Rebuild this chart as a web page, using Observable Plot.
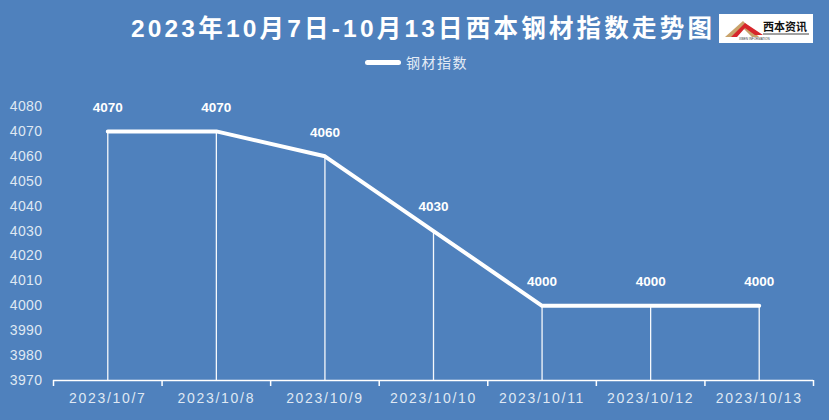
<!DOCTYPE html>
<html>
<head>
<meta charset="utf-8">
<script src="https://cdn.jsdelivr.net/npm/d3@7"></script>
<script src="https://cdn.jsdelivr.net/npm/@observablehq/plot@0.6"></script>
<style>
  html, body { margin: 0; padding: 0; }
  body { width: 829px; height: 420px; background: #4F81BD; overflow: hidden; position: relative; font-family: "Noto Sans CJK SC", "Liberation Sans", sans-serif; }
  #title { position: absolute; left: 0; top: 0; width: 846px; height: 50px; line-height: 57px; text-align: center; color: #fff; font-weight: bold; font-size: 24.5px; letter-spacing: 3.2px; font-family: "Liberation Sans", "Noto Sans CJK SC", sans-serif; }
  #legend { position: absolute; left: 0; top: 50px; width: 829px; height: 30px; }
  #legend .sw { position: absolute; left: 365px; top: 10px; width: 36px; height: 5px; background: #fff; border-radius: 3px; }
  #legend .lb { position: absolute; left: 406px; top: 0px; line-height: 24px; color: #e4ecf6; font-size: 14px; letter-spacing: 1.5px; }
  #logo { position: absolute; left: 719px; top: 14px; width: 94px; height: 29px; background: #fff; }
  #chart { position: absolute; left: 0; top: 80px; }
</style>
</head>
<body>
<div id="title">2023年10月7日-10月13日西本钢材指数走势图</div>
<div id="legend"><div class="sw"></div><div class="lb">钢材指数</div></div>
<div id="logo">
  <svg width="94" height="29" viewBox="0 0 94 29">
    <polygon points="6,23 24,7 40,23 33,23 24,14 14,23" fill="#c9a36b"/>
    <polygon points="12,23 26,9 44,21 36,21 26,14 18,23" fill="#d7262b"/>
    <text x="44" y="17" font-size="11" font-weight="bold" fill="#111" font-family="Noto Sans CJK SC">西本资讯</text>
    <line x1="44" y1="20" x2="90" y2="20" stroke="#111" stroke-width="0.8"/>
    <text x="20" y="26" font-size="3" fill="#333" font-family="Liberation Sans">XIBEN INFORMATION</text>
  </svg>
</div>
<div id="chart"></div>
<script>
const dates = ["2023/10/7", "2023/10/8", "2023/10/9", "2023/10/10", "2023/10/11", "2023/10/12", "2023/10/13"];
const values = [4070, 4070, 4060, 4030, 4000, 4000, 4000];
const yTicks = [3970, 3980, 3990, 4000, 4010, 4020, 4030, 4040, 4050, 4060, 4070, 4080];

const data = dates.map((d, i) => ({i, date: d, value: values[i]}));
const bounds = d3.range(dates.length + 1).map(k => k - 0.5);

const chart = Plot.plot({
  width: 829,
  height: 340,
  marginTop: 26,
  marginBottom: 40,
  marginLeft: 53,
  marginRight: 16,
  style: { background: "transparent", overflow: "visible" },
  x: { type: "linear", domain: [-0.5, dates.length - 0.5] },
  y: { domain: [3970, 4080] },
  marks: [
    Plot.axisY({ ticks: yTicks, tickFormat: d => String(d), tickSize: 0, tickPadding: 11, label: null, fill: "#dfe8f3", fontSize: 14, fontFamily: "Liberation Sans, sans-serif" }),
    Plot.axisX({ ticks: bounds, tickSize: 6, tickFormat: () => "", label: null, stroke: "#fff", strokeWidth: 1.5, strokeOpacity: 1 }),
    Plot.axisX({ ticks: d3.range(dates.length), tickSize: 0, tickPadding: 13, tickFormat: i => dates[i], label: null, fill: "#dfe8f3", fontSize: 14, fontFamily: "Liberation Sans, sans-serif" }),
    Plot.ruleY([3970], { stroke: "#fff", strokeWidth: 1.5 }),
    Plot.ruleX(data, { x: "i", y1: 3970, y2: "value", stroke: "#fff", strokeWidth: 1.3, strokeOpacity: 0.95 }),
    Plot.line(data, { x: "i", y: "value", stroke: "#fff", strokeWidth: 4, strokeLinecap: "round", strokeLinejoin: "round" }),
    Plot.text(data, { x: "i", y: "value", text: d => String(d.value), dy: -24, fill: "#fff", fontWeight: "bold", fontSize: 13.5, fontFamily: "Liberation Sans, sans-serif" })
  ]
});
d3.select(chart).selectAll("g[aria-label='x-axis tick label']").attr("letter-spacing", "1.7px");
d3.select(chart).selectAll("g[aria-label='y-axis tick label']").attr("letter-spacing", "0.4px");
document.getElementById("chart").appendChild(chart);
</script>
</body>
</html>
